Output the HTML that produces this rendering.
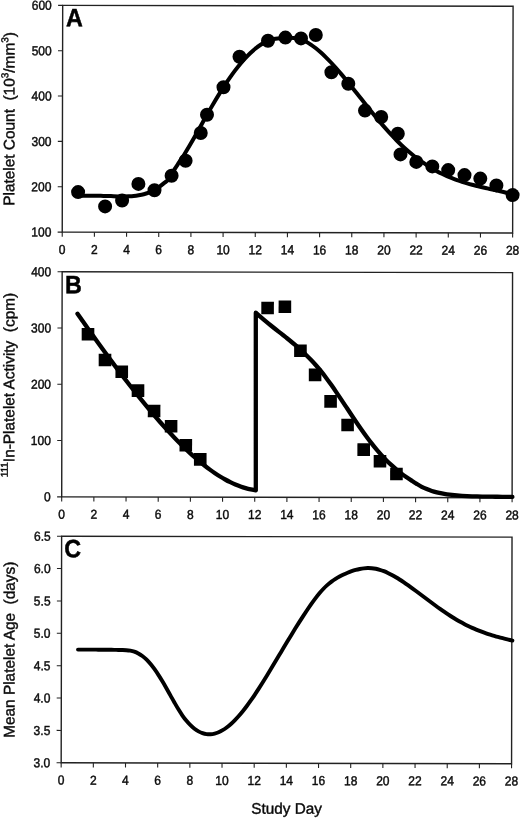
<!DOCTYPE html><html><head><meta charset="utf-8"><style>html,body{margin:0;padding:0;background:#fff;overflow:hidden}svg{display:block;will-change:transform}</style></head><body><svg width="520" height="818" viewBox="0 0 520 818" font-family="'Liberation Sans', sans-serif" fill="#0a0a0a"><rect width="520" height="818" fill="#fff"/><g transform="rotate(0.115 287.0 400.0)"><rect x="61.90" y="5.80" width="450.40" height="226.75" fill="none" stroke="#222" stroke-width="1.4"/><path d="M61.90 232.55V237.15M94.07 232.55V237.15M126.24 232.55V237.15M158.41 232.55V237.15M190.59 232.55V237.15M222.76 232.55V237.15M254.93 232.55V237.15M287.10 232.55V237.15M319.27 232.55V237.15M351.44 232.55V237.15M383.61 232.55V237.15M415.79 232.55V237.15M447.96 232.55V237.15M480.13 232.55V237.15M512.30 232.55V237.15M57.30 232.55H61.90M57.30 187.20H61.90M57.30 141.85H61.90M57.30 96.50H61.90M57.30 51.15H61.90M57.30 5.80H61.90" stroke="#222" stroke-width="1.1" fill="none"/><g font-size="13px" text-anchor="middle" stroke="#111" stroke-width="0.45"><text transform="translate(61.90 254.35) scale(0.925 1)">0</text><text transform="translate(94.07 254.35) scale(0.925 1)">2</text><text transform="translate(126.24 254.35) scale(0.925 1)">4</text><text transform="translate(158.41 254.35) scale(0.925 1)">6</text><text transform="translate(190.59 254.35) scale(0.925 1)">8</text><text transform="translate(222.76 254.35) scale(0.925 1)">10</text><text transform="translate(254.93 254.35) scale(0.925 1)">12</text><text transform="translate(287.10 254.35) scale(0.925 1)">14</text><text transform="translate(319.27 254.35) scale(0.925 1)">16</text><text transform="translate(351.44 254.35) scale(0.925 1)">18</text><text transform="translate(383.61 254.35) scale(0.925 1)">20</text><text transform="translate(415.79 254.35) scale(0.925 1)">22</text><text transform="translate(447.96 254.35) scale(0.925 1)">24</text><text transform="translate(480.13 254.35) scale(0.925 1)">26</text><text transform="translate(512.30 254.35) scale(0.925 1)">28</text></g><g font-size="13px" text-anchor="end" stroke="#111" stroke-width="0.45"><text transform="translate(51.00 237.10) scale(0.925 1)">100</text><text transform="translate(51.00 191.75) scale(0.925 1)">200</text><text transform="translate(51.00 146.40) scale(0.925 1)">300</text><text transform="translate(51.00 101.05) scale(0.925 1)">400</text><text transform="translate(51.00 55.70) scale(0.925 1)">500</text><text transform="translate(51.00 10.35) scale(0.925 1)">600</text></g><rect x="61.90" y="272.15" width="450.40" height="225.15" fill="none" stroke="#222" stroke-width="1.4"/><path d="M61.90 497.30V501.90M94.07 497.30V501.90M126.24 497.30V501.90M158.41 497.30V501.90M190.59 497.30V501.90M222.76 497.30V501.90M254.93 497.30V501.90M287.10 497.30V501.90M319.27 497.30V501.90M351.44 497.30V501.90M383.61 497.30V501.90M415.79 497.30V501.90M447.96 497.30V501.90M480.13 497.30V501.90M512.30 497.30V501.90M57.30 497.30H61.90M57.30 441.01H61.90M57.30 384.73H61.90M57.30 328.44H61.90M57.30 272.15H61.90" stroke="#222" stroke-width="1.1" fill="none"/><g font-size="13px" text-anchor="middle" stroke="#111" stroke-width="0.45"><text transform="translate(61.90 519.10) scale(0.925 1)">0</text><text transform="translate(94.07 519.10) scale(0.925 1)">2</text><text transform="translate(126.24 519.10) scale(0.925 1)">4</text><text transform="translate(158.41 519.10) scale(0.925 1)">6</text><text transform="translate(190.59 519.10) scale(0.925 1)">8</text><text transform="translate(222.76 519.10) scale(0.925 1)">10</text><text transform="translate(254.93 519.10) scale(0.925 1)">12</text><text transform="translate(287.10 519.10) scale(0.925 1)">14</text><text transform="translate(319.27 519.10) scale(0.925 1)">16</text><text transform="translate(351.44 519.10) scale(0.925 1)">18</text><text transform="translate(383.61 519.10) scale(0.925 1)">20</text><text transform="translate(415.79 519.10) scale(0.925 1)">22</text><text transform="translate(447.96 519.10) scale(0.925 1)">24</text><text transform="translate(480.13 519.10) scale(0.925 1)">26</text><text transform="translate(512.30 519.10) scale(0.925 1)">28</text></g><g font-size="13px" text-anchor="end" stroke="#111" stroke-width="0.45"><text transform="translate(51.00 501.85) scale(0.925 1)">0</text><text transform="translate(51.00 445.56) scale(0.925 1)">100</text><text transform="translate(51.00 389.28) scale(0.925 1)">200</text><text transform="translate(51.00 332.99) scale(0.925 1)">300</text><text transform="translate(51.00 276.70) scale(0.925 1)">400</text></g><rect x="61.90" y="536.65" width="450.40" height="226.60" fill="none" stroke="#222" stroke-width="1.4"/><path d="M61.90 763.25V767.85M94.07 763.25V767.85M126.24 763.25V767.85M158.41 763.25V767.85M190.59 763.25V767.85M222.76 763.25V767.85M254.93 763.25V767.85M287.10 763.25V767.85M319.27 763.25V767.85M351.44 763.25V767.85M383.61 763.25V767.85M415.79 763.25V767.85M447.96 763.25V767.85M480.13 763.25V767.85M512.30 763.25V767.85M57.30 763.25H61.90M57.30 730.88H61.90M57.30 698.51H61.90M57.30 666.14H61.90M57.30 633.76H61.90M57.30 601.39H61.90M57.30 569.02H61.90M57.30 536.65H61.90" stroke="#222" stroke-width="1.1" fill="none"/><g font-size="13px" text-anchor="middle" stroke="#111" stroke-width="0.45"><text transform="translate(61.90 785.05) scale(0.925 1)">0</text><text transform="translate(94.07 785.05) scale(0.925 1)">2</text><text transform="translate(126.24 785.05) scale(0.925 1)">4</text><text transform="translate(158.41 785.05) scale(0.925 1)">6</text><text transform="translate(190.59 785.05) scale(0.925 1)">8</text><text transform="translate(222.76 785.05) scale(0.925 1)">10</text><text transform="translate(254.93 785.05) scale(0.925 1)">12</text><text transform="translate(287.10 785.05) scale(0.925 1)">14</text><text transform="translate(319.27 785.05) scale(0.925 1)">16</text><text transform="translate(351.44 785.05) scale(0.925 1)">18</text><text transform="translate(383.61 785.05) scale(0.925 1)">20</text><text transform="translate(415.79 785.05) scale(0.925 1)">22</text><text transform="translate(447.96 785.05) scale(0.925 1)">24</text><text transform="translate(480.13 785.05) scale(0.925 1)">26</text><text transform="translate(512.30 785.05) scale(0.925 1)">28</text></g><g font-size="13px" text-anchor="end" stroke="#111" stroke-width="0.45"><text transform="translate(51.00 767.80) scale(0.925 1)">3.0</text><text transform="translate(51.00 735.43) scale(0.925 1)">3.5</text><text transform="translate(51.00 703.06) scale(0.925 1)">4.0</text><text transform="translate(51.00 670.69) scale(0.925 1)">4.5</text><text transform="translate(51.00 638.31) scale(0.925 1)">5.0</text><text transform="translate(51.00 605.94) scale(0.925 1)">5.5</text><text transform="translate(51.00 573.57) scale(0.925 1)">6.0</text><text transform="translate(51.00 541.20) scale(0.925 1)">6.5</text></g><path d="M77.69 196.12C78.53 196.13 81.06 196.18 82.74 196.19C84.43 196.20 86.11 196.20 87.79 196.20C89.48 196.20 91.16 196.19 92.85 196.19C94.53 196.19 96.22 196.20 97.90 196.21C99.58 196.23 101.27 196.24 102.95 196.27C104.64 196.31 106.32 196.35 108.00 196.40C109.69 196.45 111.37 196.50 113.06 196.56C114.74 196.62 116.42 196.70 118.11 196.75C119.79 196.79 121.48 196.84 123.16 196.83C124.84 196.81 126.53 196.73 128.21 196.64C129.90 196.55 131.58 196.47 133.27 196.30C134.95 196.12 136.63 195.88 138.32 195.59C140.00 195.30 141.69 194.99 143.37 194.55C145.05 194.11 146.74 193.56 148.42 192.95C150.11 192.34 151.79 191.81 153.47 190.88C155.16 189.95 156.84 188.62 158.53 187.37C160.21 186.12 161.89 184.75 163.58 183.37C165.26 182.00 166.95 181.33 168.63 179.11C170.32 176.90 172.00 172.87 173.68 170.09C175.37 167.30 177.05 164.98 178.74 162.41C180.42 159.84 182.10 157.35 183.79 154.66C185.47 151.97 187.16 149.14 188.84 146.27C190.52 143.40 192.21 140.42 193.89 137.44C195.58 134.45 197.26 131.39 198.95 128.36C200.63 125.33 202.31 122.25 204.00 119.24C205.68 116.22 207.37 113.21 209.05 110.27C210.73 107.33 212.42 104.42 214.10 101.58C215.79 98.74 217.47 95.95 219.15 93.23C220.84 90.51 222.52 87.85 224.21 85.27C225.89 82.70 227.57 80.18 229.26 77.76C230.94 75.34 232.63 73.00 234.31 70.75C236.00 68.51 237.68 66.34 239.36 64.29C241.05 62.24 242.73 60.28 244.42 58.44C246.10 56.60 247.78 54.87 249.47 53.26C251.15 51.65 252.84 50.15 254.52 48.78C256.20 47.42 257.89 46.18 259.57 45.08C261.26 43.98 262.94 43.01 264.62 42.19C266.31 41.36 267.99 40.70 269.68 40.14C271.36 39.59 273.05 39.19 274.73 38.86C276.41 38.53 278.10 38.33 279.78 38.16C281.47 37.99 283.15 37.90 284.83 37.83C286.52 37.77 288.20 37.71 289.89 37.77C291.57 37.83 293.25 37.92 294.94 38.19C296.62 38.45 298.31 38.81 299.99 39.36C301.67 39.91 303.36 40.63 305.04 41.49C306.73 42.35 308.41 43.38 310.10 44.50C311.78 45.62 313.46 46.89 315.15 48.22C316.83 49.55 318.52 50.99 320.20 52.49C321.88 54.00 323.57 55.59 325.25 57.25C326.94 58.90 328.62 60.63 330.30 62.41C331.99 64.19 333.67 66.04 335.36 67.93C337.04 69.82 338.72 71.77 340.41 73.74C342.09 75.72 343.78 77.75 345.46 79.79C347.15 81.83 348.83 83.91 350.51 86.00C352.20 88.09 353.88 90.21 355.57 92.32C357.25 94.44 358.93 96.57 360.62 98.69C362.30 100.82 363.99 102.94 365.67 105.05C367.35 107.16 369.04 109.26 370.72 111.33C372.41 113.41 374.09 115.47 375.77 117.49C377.46 119.51 379.14 121.51 380.83 123.47C382.51 125.43 384.20 127.36 385.88 129.25C387.56 131.13 389.25 132.98 390.93 134.78C392.62 136.57 394.30 138.33 395.98 140.02C397.67 141.72 399.35 143.36 401.04 144.95C402.72 146.53 404.40 148.06 406.09 149.53C407.77 151.00 409.46 152.41 411.14 153.78C412.82 155.15 414.51 156.46 416.19 157.73C417.88 159.00 419.56 160.23 421.25 161.41C422.93 162.59 424.61 163.73 426.30 164.82C427.98 165.91 429.67 166.96 431.35 167.96C433.03 168.97 434.72 169.92 436.40 170.84C438.09 171.75 439.77 172.62 441.45 173.44C443.14 174.26 444.82 175.04 446.51 175.78C448.19 176.52 449.87 177.22 451.56 177.88C453.24 178.55 454.93 179.17 456.61 179.77C458.30 180.36 459.98 180.92 461.66 181.46C463.35 182.00 465.03 182.51 466.72 182.99C468.40 183.48 470.08 183.94 471.77 184.39C473.45 184.84 475.14 185.26 476.82 185.68C478.50 186.09 480.19 186.49 481.87 186.88C483.56 187.27 485.24 187.64 486.92 188.02C488.61 188.39 490.29 188.76 491.98 189.13C493.66 189.49 495.35 189.86 497.03 190.23C498.71 190.60 500.40 190.97 502.08 191.35C503.77 191.73 505.45 192.11 507.13 192.52C508.82 192.92 511.34 193.55 512.19 193.75" fill="none" stroke="#000" stroke-width="4.00" stroke-linecap="round" stroke-linejoin="round"/><path d="M77.33 314.16C78.18 315.37 80.73 318.99 82.43 321.40C84.13 323.80 85.83 326.20 87.54 328.59C89.24 330.98 90.94 333.36 92.64 335.74C94.34 338.11 96.04 340.47 97.75 342.83C99.45 345.18 101.15 347.53 102.85 349.86C104.55 352.19 106.25 354.51 107.95 356.82C109.66 359.13 111.36 361.42 113.06 363.70C114.76 365.99 116.46 368.25 118.16 370.51C119.86 372.76 121.57 375.00 123.27 377.22C124.97 379.44 126.67 381.64 128.37 383.83C130.07 386.01 131.77 388.18 133.48 390.33C135.18 392.48 136.88 394.62 138.58 396.73C140.28 398.84 141.98 400.93 143.68 403.00C145.39 405.07 147.09 407.12 148.79 409.15C150.49 411.17 152.19 413.18 153.89 415.16C155.60 417.14 157.30 419.09 159.00 421.02C160.70 422.96 162.40 424.86 164.10 426.74C165.80 428.62 167.51 430.48 169.21 432.30C170.91 434.13 172.61 435.93 174.31 437.70C176.01 439.47 177.71 441.22 179.42 442.93C181.12 444.64 182.82 446.32 184.52 447.96C186.22 449.61 187.92 451.22 189.62 452.80C191.33 454.37 193.03 455.91 194.73 457.41C196.43 458.91 198.13 460.38 199.83 461.79C201.54 463.21 203.24 464.59 204.94 465.92C206.64 467.26 208.34 468.55 210.04 469.79C211.74 471.03 213.45 472.22 215.15 473.37C216.85 474.51 218.55 475.61 220.25 476.65C221.95 477.69 223.65 478.68 225.36 479.62C227.06 480.56 228.76 481.44 230.46 482.27C232.16 483.10 233.86 483.88 235.56 484.60C237.27 485.31 238.97 485.98 240.67 486.58C242.37 487.19 244.07 487.74 245.77 488.23C247.47 488.72 249.18 489.15 250.88 489.52C252.58 489.90 255.13 490.30 255.98 490.46L255.62 312.69C256.46 313.44 258.98 315.72 260.66 317.17C262.34 318.62 264.02 320.03 265.70 321.42C267.38 322.81 269.06 324.16 270.74 325.51C272.42 326.85 274.10 328.17 275.78 329.49C277.46 330.82 279.14 332.12 280.82 333.44C282.50 334.77 284.18 336.08 285.86 337.42C287.54 338.77 289.22 340.11 290.89 341.50C292.57 342.88 294.25 344.28 295.93 345.72C297.61 347.17 299.29 348.64 300.97 350.16C302.65 351.69 304.33 353.26 306.01 354.89C307.69 356.52 309.37 358.20 311.05 359.96C312.73 361.72 314.41 363.53 316.09 365.44C317.77 367.34 319.45 369.32 321.13 371.39C322.81 373.46 324.49 375.63 326.17 377.86C327.84 380.09 329.52 382.41 331.20 384.77C332.88 387.13 334.56 389.56 336.24 392.02C337.92 394.47 339.60 396.97 341.28 399.48C342.96 401.98 344.64 404.53 346.32 407.05C348.00 409.57 349.68 412.10 351.36 414.60C353.04 417.10 354.72 419.60 356.40 422.05C358.08 424.50 359.76 426.94 361.44 429.32C363.12 431.69 364.79 434.04 366.47 436.32C368.15 438.59 369.83 440.82 371.51 442.97C373.19 445.12 374.87 447.21 376.55 449.21C378.23 451.20 379.91 453.12 381.59 454.95C383.27 456.78 384.95 458.53 386.63 460.20C388.31 461.88 389.99 463.47 391.67 465.00C393.35 466.53 395.03 467.99 396.71 469.39C398.39 470.79 400.06 472.13 401.74 473.39C403.42 474.65 405.10 475.80 406.78 476.96C408.46 478.12 410.14 479.23 411.82 480.33C413.50 481.44 415.18 482.56 416.86 483.60C418.54 484.63 420.22 485.69 421.90 486.56C423.58 487.43 425.26 488.14 426.94 488.82C428.62 489.51 430.30 490.14 431.98 490.68C433.66 491.22 435.34 491.65 437.01 492.07C438.69 492.48 440.37 492.84 442.05 493.16C443.73 493.47 445.41 493.74 447.09 493.98C448.77 494.22 450.45 494.43 452.13 494.61C453.81 494.80 455.49 494.96 457.17 495.10C458.85 495.24 460.53 495.36 462.21 495.47C463.89 495.57 465.57 495.67 467.25 495.75C468.93 495.82 470.61 495.88 472.29 495.93C473.96 495.98 475.64 496.02 477.32 496.06C479.00 496.09 480.68 496.12 482.36 496.15C484.04 496.18 485.72 496.20 487.40 496.23C489.08 496.25 490.76 496.27 492.44 496.29C494.12 496.30 495.80 496.32 497.48 496.33C499.16 496.35 500.84 496.36 502.52 496.37C504.20 496.38 505.88 496.40 507.56 496.41C509.23 496.42 511.75 496.44 512.59 496.45" fill="none" stroke="#000" stroke-width="4.30" stroke-linecap="round" stroke-linejoin="round"/><path d="M78.50 650.02C79.17 650.02 81.18 650.01 82.52 650.00C83.86 650.00 85.20 650.00 86.55 650.00C87.89 650.00 89.23 649.99 90.57 650.00C91.91 650.00 93.25 650.01 94.59 650.02C95.93 650.03 97.27 650.05 98.61 650.06C99.95 650.07 101.29 650.08 102.63 650.09C103.97 650.10 105.32 650.10 106.66 650.11C108.00 650.12 109.34 650.13 110.68 650.14C112.02 650.16 113.36 650.17 114.70 650.20C116.04 650.22 117.38 650.26 118.72 650.28C120.06 650.30 121.40 650.30 122.74 650.34C124.08 650.38 125.43 650.41 126.77 650.52C128.11 650.63 129.45 650.76 130.79 651.01C132.13 651.25 133.47 651.53 134.81 651.99C136.15 652.44 137.49 653.02 138.83 653.73C140.17 654.44 141.51 655.26 142.85 656.25C144.19 657.23 145.54 658.36 146.88 659.66C148.22 660.95 149.56 662.43 150.90 664.02C152.24 665.62 153.58 667.38 154.92 669.24C156.26 671.09 157.60 673.08 158.94 675.14C160.28 677.20 161.62 679.38 162.96 681.60C164.31 683.82 165.65 686.13 166.99 688.46C168.33 690.80 169.67 693.21 171.01 695.59C172.35 697.96 173.69 700.40 175.03 702.73C176.37 705.06 177.71 707.40 179.05 709.57C180.39 711.74 181.73 713.84 183.07 715.75C184.42 717.66 185.76 719.42 187.10 721.03C188.44 722.65 189.78 724.11 191.12 725.42C192.46 726.74 193.80 727.90 195.14 728.92C196.48 729.94 197.82 730.82 199.16 731.56C200.50 732.29 201.84 732.88 203.18 733.34C204.53 733.79 205.87 734.11 207.21 734.29C208.55 734.47 209.89 734.51 211.23 734.42C212.57 734.33 213.91 734.11 215.25 733.77C216.59 733.43 217.93 732.97 219.27 732.39C220.61 731.81 221.95 731.12 223.30 730.32C224.64 729.52 225.98 728.61 227.32 727.61C228.66 726.61 230.00 725.50 231.34 724.31C232.68 723.11 234.02 721.82 235.36 720.45C236.70 719.09 238.04 717.63 239.38 716.10C240.72 714.58 242.06 712.97 243.41 711.30C244.75 709.63 246.09 707.88 247.43 706.08C248.77 704.29 250.11 702.42 251.45 700.51C252.79 698.60 254.13 696.63 255.47 694.63C256.81 692.62 258.15 690.56 259.49 688.48C260.83 686.39 262.17 684.26 263.52 682.10C264.86 679.95 266.20 677.76 267.54 675.56C268.88 673.36 270.22 671.13 271.56 668.89C272.90 666.65 274.24 664.39 275.58 662.14C276.92 659.88 278.26 657.62 279.60 655.35C280.94 653.09 282.29 650.83 283.63 648.57C284.97 646.31 286.31 644.06 287.65 641.82C288.99 639.58 290.33 637.34 291.67 635.13C293.01 632.92 294.35 630.72 295.69 628.54C297.03 626.37 298.37 624.21 299.71 622.09C301.05 619.96 302.40 617.86 303.74 615.79C305.08 613.73 306.42 611.69 307.76 609.69C309.10 607.70 310.44 605.73 311.78 603.83C313.12 601.93 314.46 600.07 315.80 598.30C317.14 596.53 318.48 594.81 319.82 593.21C321.16 591.61 322.51 590.08 323.85 588.68C325.19 587.27 326.53 585.98 327.87 584.78C329.21 583.58 330.55 582.49 331.89 581.48C333.23 580.46 334.57 579.54 335.91 578.68C337.25 577.83 338.59 577.05 339.93 576.33C341.28 575.60 342.62 574.95 343.96 574.33C345.30 573.70 346.64 573.14 347.98 572.60C349.32 572.06 350.66 571.55 352.00 571.09C353.34 570.63 354.68 570.20 356.02 569.83C357.36 569.45 358.70 569.12 360.04 568.85C361.39 568.58 362.73 568.35 364.07 568.20C365.41 568.04 366.75 567.94 368.09 567.91C369.43 567.89 370.77 567.92 372.11 568.04C373.45 568.16 374.79 568.35 376.13 568.61C377.47 568.87 378.81 569.21 380.15 569.61C381.50 570.01 382.84 570.47 384.18 570.99C385.52 571.51 386.86 572.09 388.20 572.72C389.54 573.35 390.88 574.03 392.22 574.75C393.56 575.46 394.90 576.23 396.24 577.03C397.58 577.82 398.92 578.66 400.27 579.52C401.61 580.38 402.95 581.28 404.29 582.18C405.63 583.09 406.97 584.03 408.31 584.97C409.65 585.92 410.99 586.88 412.33 587.85C413.67 588.82 415.01 589.80 416.35 590.78C417.69 591.76 419.03 592.76 420.38 593.75C421.72 594.75 423.06 595.75 424.40 596.74C425.74 597.74 427.08 598.74 428.42 599.74C429.76 600.73 431.10 601.73 432.44 602.71C433.78 603.70 435.12 604.68 436.46 605.65C437.80 606.63 439.14 607.59 440.49 608.54C441.83 609.49 443.17 610.43 444.51 611.35C445.85 612.27 447.19 613.18 448.53 614.07C449.87 614.96 451.21 615.83 452.55 616.67C453.89 617.52 455.23 618.35 456.57 619.15C457.91 619.95 459.25 620.73 460.60 621.47C461.94 622.22 463.28 622.94 464.62 623.63C465.96 624.33 467.30 624.99 468.64 625.64C469.98 626.28 471.32 626.90 472.66 627.49C474.00 628.09 475.34 628.66 476.68 629.21C478.02 629.76 479.37 630.29 480.71 630.80C482.05 631.31 483.39 631.80 484.73 632.27C486.07 632.75 487.41 633.20 488.75 633.64C490.09 634.08 491.43 634.50 492.77 634.91C494.11 635.32 495.45 635.71 496.79 636.09C498.13 636.47 499.48 636.84 500.82 637.20C502.16 637.55 503.50 637.90 504.84 638.23C506.18 638.57 507.52 638.90 508.86 639.22C510.20 639.53 512.21 639.99 512.88 640.15" fill="none" stroke="#000" stroke-width="3.90" stroke-linecap="round" stroke-linejoin="round"/><g fill="#000"><circle cx="77.68" cy="192.52" r="7.0"/><circle cx="104.71" cy="206.77" r="7.0"/><circle cx="121.70" cy="200.83" r="7.0"/><circle cx="137.97" cy="184.20" r="7.0"/><circle cx="154.08" cy="190.57" r="7.0"/><circle cx="171.15" cy="175.93" r="7.0"/><circle cx="185.12" cy="161.00" r="7.0"/><circle cx="200.21" cy="133.17" r="7.0"/><circle cx="206.43" cy="114.86" r="7.0"/><circle cx="222.87" cy="87.43" r="7.0"/><circle cx="238.81" cy="56.85" r="7.0"/><circle cx="267.28" cy="40.79" r="7.0"/><circle cx="284.67" cy="37.60" r="7.0"/><circle cx="300.27" cy="38.37" r="7.0"/><circle cx="315.07" cy="34.94" r="7.0"/><circle cx="330.74" cy="72.11" r="7.0"/><circle cx="347.67" cy="83.68" r="7.0"/><circle cx="364.42" cy="110.44" r="7.0"/><circle cx="380.63" cy="116.81" r="7.0"/><circle cx="397.27" cy="133.58" r="7.0"/><circle cx="400.01" cy="154.17" r="7.0"/><circle cx="415.82" cy="161.64" r="7.0"/><circle cx="431.83" cy="166.11" r="7.0"/><circle cx="447.74" cy="169.78" r="7.0"/><circle cx="464.05" cy="174.74" r="7.0"/><circle cx="479.86" cy="178.21" r="7.0"/><circle cx="495.97" cy="184.98" r="7.0"/><circle cx="512.19" cy="194.65" r="7.0"/><rect x="81.57" y="328.35" width="12.6" height="12.6"/><rect x="98.62" y="354.07" width="12.6" height="12.6"/><rect x="115.39" y="365.78" width="12.6" height="12.6"/><rect x="131.68" y="384.60" width="12.6" height="12.6"/><rect x="147.82" y="404.97" width="12.6" height="12.6"/><rect x="164.85" y="420.23" width="12.6" height="12.6"/><rect x="179.59" y="439.10" width="12.6" height="12.6"/><rect x="194.07" y="453.27" width="12.6" height="12.6"/><rect x="261.12" y="301.74" width="12.6" height="12.6"/><rect x="278.41" y="300.50" width="12.6" height="12.6"/><rect x="294.05" y="344.47" width="12.6" height="12.6"/><rect x="308.75" y="368.54" width="12.6" height="12.6"/><rect x="324.30" y="395.01" width="12.6" height="12.6"/><rect x="341.35" y="418.58" width="12.6" height="12.6"/><rect x="357.50" y="443.15" width="12.6" height="12.6"/><rect x="373.82" y="454.71" width="12.6" height="12.6"/><rect x="390.30" y="467.48" width="12.6" height="12.6"/></g><g font-size="25px" font-weight="bold" fill="#000" stroke="#000" stroke-width="0.5"><text transform="translate(65.30 26.80) scale(0.930 1)">A</text><text transform="translate(64.80 293.60) scale(0.930 1)">B</text><text transform="translate(64.60 557.80) scale(0.930 1)">C</text></g><g font-size="15.4px" stroke="#111" stroke-width="0.42"><text transform="translate(13.9 206.3) rotate(-90)" xml:space="preserve">Platelet Count  (10<tspan font-size="10px" dy="-6.4">3</tspan><tspan dy="6.4">/mm</tspan><tspan font-size="10px" dy="-6.4">3</tspan><tspan dy="6.4">)</tspan></text><text transform="translate(14.3 477.9) rotate(-90)" xml:space="preserve"><tspan font-size="10px" dy="-6.4">111</tspan><tspan dy="6.4">In-Platelet Activity  (cpm)</tspan></text><text transform="translate(15.1 738.4) rotate(-90)" xml:space="preserve">Mean Platelet Age  (days)</text></g><text x="287.4" y="813.8" font-size="15.3px" text-anchor="middle" stroke="#111" stroke-width="0.42">Study Day</text></g></svg></body></html>
